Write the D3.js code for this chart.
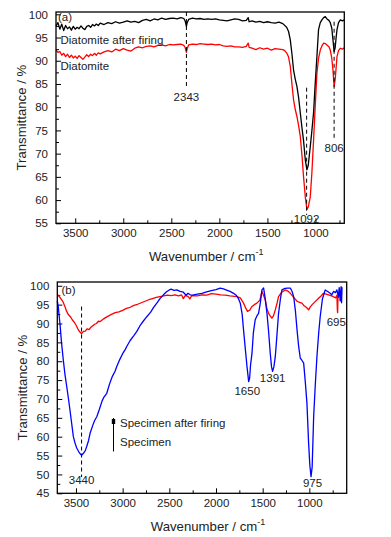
<!DOCTYPE html>
<html><head><meta charset="utf-8">
<script src="https://cdn.jsdelivr.net/npm/d3@7"></script>
<style>body{margin:0;background:#fff}svg{display:block}text{font-family:"Liberation Sans",Arial,sans-serif}</style>
</head><body><svg id="c" width="391" height="537"></svg>
<script>
// ---------- Panel (a) data ----------
const aAfterFiring = [[3700,97.5],[3680,98.2],[3660,96.8],[3640,97.9],[3620,96.5],[3600,97.6],[3580,96.9],[3560,97.3],[3540,96.6],[3520,97.4],[3500,96.8],[3480,97.2],[3460,96.9],[3440,97.5],[3420,97.0],[3400,96.7],[3380,97.4],[3360,97.6],[3340,97.2],[3320,97.8],[3300,97.5],[3280,97.9],[3260,97.6],[3240,98.1],[3200,97.8],[3160,98.2],[3120,98.0],[3080,98.4],[3040,98.1],[3000,98.3],[2960,98.6],[2920,98.3],[2880,98.5],[2840,98.2],[2800,98.7],[2760,98.9],[2720,98.6],[2680,99.0],[2640,98.8],[2600,99.2],[2560,98.9],[2520,99.1],[2480,99.2],[2440,99.0],[2400,99.3],[2370,99.1],[2355,98.5],[2343,97.4],[2335,98.2],[2320,98.9],[2280,99.2],[2240,99.0],[2200,99.1],[2160,98.9],[2120,99.0],[2080,98.9],[2040,99.0],[2000,98.8],[1960,98.7],[1920,98.6],[1880,98.8],[1840,99.0],[1800,98.9],[1760,98.6],[1720,98.7],[1700,99.3],[1690,98.4],[1660,98.6],[1620,98.3],[1580,98.5],[1540,98.2],[1500,98.4],[1460,98.2],[1420,98.1],[1380,98.3],[1340,98.0],[1300,97.2],[1280,96.3],[1262,94.5],[1245,91.5],[1228,88],[1210,86],[1193,84.5],[1175,82],[1158,78.8],[1140,75.5],[1124,72.8],[1105,68.5],[1089,66.5],[1075,67.5],[1054,71.5],[1037,75],[1020,78.8],[1003,85],[985,90.9],[968,96.7],[950,98.2],[933,98.8],[915,99.3],[898,99.5],[880,99.0],[860,98.7],[846,98.2],[830,97],[818,94.5],[806,92],[795,92.8],[785,95],[776,96.7],[760,98.2],[741,98.8],[720,98.6],[700,98.8]];
const aDiatomite = [[3700,92.3],[3680,91.8],[3660,92.0],[3640,91.2],[3620,91.6],[3600,90.9],[3580,91.4],[3560,90.7],[3540,91.2],[3520,90.6],[3500,91.0],[3480,90.5],[3460,91.1],[3440,90.7],[3420,90.3],[3400,90.8],[3380,91.3],[3360,90.9],[3340,91.4],[3320,91.1],[3300,91.6],[3280,91.2],[3260,91.7],[3240,91.5],[3200,91.9],[3160,92.2],[3120,91.9],[3080,92.5],[3040,92.2],[3000,92.6],[2960,92.3],[2920,92.1],[2880,92.7],[2840,93.0],[2800,92.8],[2760,93.1],[2720,93.2],[2680,93.0],[2640,93.3],[2600,93.4],[2560,93.2],[2520,93.5],[2480,93.4],[2440,93.5],[2400,93.6],[2370,93.3],[2355,92.8],[2343,91.8],[2335,92.6],[2320,93.4],[2280,93.6],[2240,93.5],[2200,93.7],[2160,93.6],[2120,93.5],[2080,93.6],[2040,93.4],[2000,93.5],[1960,93.2],[1920,93.1],[1880,93.2],[1840,93.0],[1800,93.0],[1760,92.9],[1720,93.1],[1700,93.8],[1690,92.9],[1660,92.7],[1620,92.4],[1580,92.8],[1540,92.5],[1500,92.7],[1460,92.3],[1420,92.6],[1380,92.5],[1340,92.4],[1320,92.2],[1297,91.6],[1280,90.8],[1262,88.8],[1245,85],[1228,81.6],[1210,79.5],[1193,78],[1175,76],[1158,73.7],[1140,69.5],[1124,65],[1105,60.5],[1089,58],[1075,58.5],[1054,60.7],[1037,66],[1020,72.8],[1003,80],[985,87.3],[968,90.5],[950,92.3],[933,93.2],[915,93.8],[898,93.7],[881,93.4],[860,93.0],[846,92.3],[830,90.5],[818,88],[806,84.5],[795,86],[785,88.5],[776,90.9],[760,92.2],[741,92.7],[720,92.5],[700,92.8]];
// ---------- Panel (b) data ----------
const bAfterFiring = [[3700,97.8],[3680,97.2],[3660,96.5],[3640,95.8],[3620,94.6],[3600,93.2],[3580,92.3],[3560,91.8],[3540,91.0],[3520,90.4],[3500,89.6],[3480,88.6],[3460,87.8],[3440,87.3],[3420,87.9],[3400,88.0],[3380,88.6],[3360,88.4],[3340,89.0],[3320,89.4],[3300,89.8],[3280,90.0],[3260,90.6],[3240,90.5],[3200,91.3],[3160,91.9],[3120,92.4],[3080,92.9],[3040,93.1],[3000,93.5],[2960,94.0],[2920,94.3],[2880,94.8],[2840,95.1],[2800,95.5],[2760,95.9],[2720,96.3],[2680,96.6],[2640,96.9],[2600,97.1],[2560,97.3],[2520,97.5],[2480,97.4],[2440,97.6],[2400,97.3],[2370,97.6],[2350,96.6],[2330,97.4],[2300,97.2],[2280,96.5],[2260,97.4],[2200,97.3],[2150,97.6],[2100,97.5],[2050,97.9],[2000,97.8],[1950,97.6],[1900,97.5],[1850,97.3],[1800,97.2],[1776,97.1],[1740,96.8],[1705,95.4],[1680,94.0],[1662,93.2],[1640,93.5],[1615,94.5],[1590,95.0],[1562,95.4],[1530,96.2],[1508,98.5],[1490,97.4],[1473,96.3],[1455,94.0],[1437,92.7],[1420,92.0],[1401,91.4],[1385,92.0],[1365,93.6],[1345,95.5],[1330,97.1],[1300,98.2],[1258,98.9],[1230,98.6],[1204,98.0],[1170,97.0],[1132,95.9],[1105,95.6],[1079,95.4],[1060,94.8],[1044,94.5],[1025,94.1],[1008,93.6],[990,94.4],[970,95.0],[954,95.4],[930,96.0],[901,96.7],[875,97.3],[848,98.0],[820,97.8],[794,97.6],[770,97.4],[741,97.1],[720,96.8],[705,97.5],[700,93.5],[697,92.9],[694,96.8],[680,97.6],[669,98.0],[650,97.8]];
const bSpecimen = [[3700,96.0],[3690,94.5],[3680,92.0],[3670,89.5],[3655,85.0],[3636,80.4],[3618,76.5],[3599,73.3],[3580,70.0],[3564,67.0],[3546,63.5],[3528,60.0],[3510,58.3],[3492,57.0],[3470,56.0],[3450,55.3],[3438,55.1],[3420,55.6],[3400,56.3],[3385,57.4],[3365,59.0],[3349,60.9],[3320,63.0],[3300,64.3],[3277,65.3],[3250,67.2],[3220,69.5],[3200,70.5],[3170,71.5],[3140,74.0],[3110,76.0],[3080,77.4],[3063,78.6],[3030,80.5],[3000,82.0],[2970,83.2],[2956,83.9],[2920,85.5],[2880,86.8],[2848,87.9],[2810,89.6],[2780,90.6],[2741,91.8],[2700,93.0],[2670,94.2],[2634,95.4],[2600,96.6],[2563,97.6],[2530,98.4],[2500,98.9],[2480,99.1],[2450,98.8],[2420,98.9],[2385,98.5],[2350,98.3],[2320,97.5],[2300,98.0],[2277,97.6],[2250,97.5],[2200,97.8],[2150,98.0],[2100,98.4],[2050,98.7],[2000,99.0],[1955,99.4],[1920,99.2],[1880,98.8],[1850,98.5],[1812,98.0],[1780,97.4],[1760,96.6],[1740,95.4],[1720,92.5],[1705,88.3],[1685,83.0],[1668,78.6],[1650,74.6],[1640,75.5],[1630,79.0],[1615,82.0],[1600,87.5],[1580,91.0],[1562,92.0],[1544,92.7],[1525,95.5],[1508,98.9],[1490,99.4],[1475,97.0],[1454,92.7],[1437,88.0],[1419,82.1],[1405,78.5],[1394,77.3],[1380,78.5],[1365,81.2],[1350,86.0],[1330,92.7],[1310,96.5],[1294,98.9],[1260,99.3],[1230,99.4],[1204,99.4],[1185,98.5],[1168,97.1],[1150,93.5],[1132,88.3],[1115,84.0],[1097,80.8],[1079,80.2],[1061,79.5],[1045,75.0],[1026,68.9],[1008,58.3],[995,52.5],[982,49.4],[970,52.0],[954,65.3],[937,73.5],[919,81.2],[900,87.5],[884,91.8],[860,96.5],[830,98.9],[800,98.4],[777,98.0],[760,97.6],[741,98.5],[720,98.2],[705,98.9],[690,97.0],[680,99.5],[670,96.0],[660,99.8],[655,95.5],[650,99.6]];

const xTicks = [3500,3000,2500,2000,1500,1000];
const xMinor = [3750,3250,2750,2250,1750,1250,750];
const aYTicks = [55,60,65,70,75,80,85,90,95,100];
const bYTicks = [45,50,55,60,65,70,75,80,85,90,95,100];
const aAnnotations = [{label:"2343", wn:2343, y1:100.5, y2:84.2, ty:82.1},{label:"1092", wn:1092, y1:84.2, y2:56.8, ty:55.9},{label:"806", wn:806, y1:98.4, y2:73, ty:71.3}];
const bAnnotations = [{label:"3440", wn:3440, y1:94.5, y2:49.3, ty:48.4}];
const bPeakLabels = [{label:"1650", wn:1665, v:72},{label:"1391", wn:1393, v:75.5},{label:"975", wn:966, v:47.7},{label:"695", wn:712, v:90.5}];

const svg = d3.select("#c");
svg.append("rect").attr("width",391).attr("height",537).attr("fill","#fff");

function panel(o){
  const x = d3.scaleLinear().domain(o.xd).range([o.l,o.r]);
  const y = d3.scaleLinear().domain(o.yd).range([o.b,o.t]);
  const g = svg.append("g");
  const minorY = [];
  for(let v=o.yd[0]; v<=o.yd[1]; v+=2.5) if(!o.yt.includes(v)) minorY.push(v);
  g.append("g").attr("transform",`translate(0,${o.b})`)
    .call(d3.axisBottom(x).tickValues(xMinor.filter(v=>v<=o.xd[0]&&v>=o.xd[1])).tickSize(-3).tickFormat(""))
    .call(s=>s.select(".domain").remove());
  g.append("g").attr("transform",`translate(${o.l},0)`)
    .call(d3.axisLeft(y).tickValues(minorY).tickSize(-3).tickFormat(""))
    .call(s=>s.select(".domain").remove());
  const ax = g.append("g").attr("transform",`translate(0,${o.b})`)
    .call(d3.axisBottom(x).tickValues(xTicks).tickSize(-5).tickPadding(6).tickFormat(d3.format("d")));
  ax.select(".domain").remove();
  const ay = g.append("g").attr("transform",`translate(${o.l},0)`)
    .call(d3.axisLeft(y).tickValues(o.yt).tickSize(-5).tickPadding(8).tickFormat(d3.format("d")));
  ay.select(".domain").remove();
  g.selectAll(".tick text").attr("font-size",11.5).attr("fill","#222").attr("font-family","Liberation Sans, Arial, sans-serif");
  g.selectAll(".tick line").attr("stroke","#000");
  const line = d3.line().x(d=>x(d[0])).y(d=>y(d[1]));
  o.series.forEach(s=>{
    g.append("path").datum(s.data).attr("d",line).attr("fill","none").attr("stroke",s.color).attr("stroke-width",1.3).attr("stroke-linejoin","round");
  });
  g.append("rect").attr("x",o.l).attr("y",o.t).attr("width",o.r-o.l).attr("height",o.b-o.t)
    .attr("fill","none").attr("stroke","#000").attr("stroke-width",1.3);
  g.append("text").attr("transform",`translate(${o.l-30},${(o.t+o.b)/2}) rotate(-90)`)
    .attr("text-anchor","middle").attr("font-size",13.2).attr("fill","#222").text("Transmittance / %");
  const xt = g.append("text").attr("x",(o.l+o.r)/2+6).attr("y",o.b+38).attr("text-anchor","middle").attr("font-size",13.2).attr("fill","#222");
  xt.append("tspan").text("Wavenumber / cm");
  xt.append("tspan").attr("dy",-6).attr("font-size",9).text("-1");
  return {x,y,g};
}

// Panel (a)
const A = panel({xd:[3700,700], yd:[55,100.5], l:56, r:344.3, t:12, b:223.3, yt:aYTicks,
  series:[{data:aDiatomite,color:"#ff0000"},{data:aAfterFiring,color:"#000000"}]});
aAnnotations.forEach(a=>{
  A.g.append("line").attr("x1",A.x(a.wn)).attr("x2",A.x(a.wn)).attr("y1",A.y(a.y1)).attr("y2",A.y(a.y2))
    .attr("stroke","#000").attr("stroke-width",1).attr("stroke-dasharray","4,3");
  A.g.append("text").attr("x",A.x(a.wn)).attr("y",A.y(a.ty)).attr("dy","0.35em").attr("text-anchor","middle")
    .attr("font-size",11.5).attr("fill","#222").text(a.label);
});
A.g.append("text").attr("x",58).attr("y",17).attr("dy","0.35em").attr("font-size",11.5).attr("fill","#222").text("(a)");
A.g.append("text").attr("x",60.5).attr("y",39.5).attr("dy","0.35em").attr("font-size",11.5).attr("fill","#222").text("Diatomite after firing");
A.g.append("text").attr("x",60.5).attr("y",66).attr("dy","0.35em").attr("font-size",11.5).attr("fill","#222").text("Diatomite");

// Panel (b)
const B = panel({xd:[3700,600], yd:[45,101], l:57.3, r:346.7, t:282, b:493.3, yt:bYTicks,
  series:[{data:bAfterFiring,color:"#ff0000"},{data:bSpecimen,color:"#0000ff"}]});
bAnnotations.forEach(a=>{
  B.g.append("line").attr("x1",B.x(a.wn)).attr("x2",B.x(a.wn)).attr("y1",B.y(a.y1)).attr("y2",B.y(a.y2))
    .attr("stroke","#000").attr("stroke-width",1).attr("stroke-dasharray","4,3");
  B.g.append("text").attr("x",B.x(a.wn)).attr("y",B.y(a.ty)).attr("dy","0.35em").attr("text-anchor","middle")
    .attr("font-size",11.5).attr("fill","#222").text(a.label);
});
bPeakLabels.forEach(p=>{
  B.g.append("text").attr("x",B.x(p.wn)).attr("y",B.y(p.v)).attr("dy","0.35em").attr("text-anchor","middle")
    .attr("font-size",11.5).attr("fill","#222").text(p.label);
});
B.g.append("text").attr("x",61.5).attr("y",290).attr("dy","0.35em").attr("font-size",11.5).attr("fill","#222").text("(b)");
B.g.append("line").attr("x1",113.5).attr("x2",113.5).attr("y1",418).attr("y2",451.5).attr("stroke","#000").attr("stroke-width",1);
B.g.append("rect").attr("x",111.8).attr("y",419).attr("width",3.4).attr("height",5).attr("fill","#000");
B.g.append("text").attr("x",120).attr("y",422.5).attr("dy","0.35em").attr("font-size",11.5).attr("fill","#222").text("Specimen after firing");
B.g.append("text").attr("x",120).attr("y",441.5).attr("dy","0.35em").attr("font-size",11.5).attr("fill","#222").text("Specimen");
</script></body></html>
